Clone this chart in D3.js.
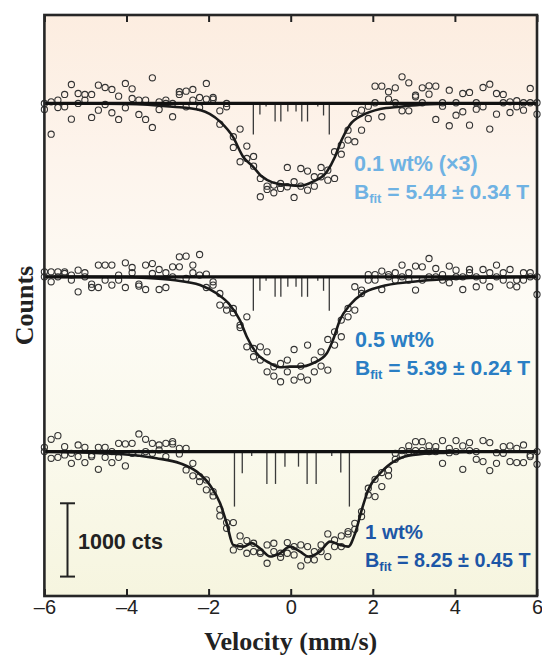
<!DOCTYPE html>
<html>
<head>
<meta charset="utf-8">
<script src="https://cdn.jsdelivr.net/npm/d3@7"></script>
<style>
body { margin: 0; background: #fff; }
text { font-family: "Liberation Sans", Arial, sans-serif; }
</style>
</head>
<body>
<script>

var width = 542,
    height = 655,
    plotLeft = 44.4, plotRight = 537, plotTop = 15, plotBottom = 596;

// channel grid of the unfolded spectrum (74 channels, -6 .. 6 mm/s)
var channels = 74;
var velocities = d3.range(channels).map(function(i) { return -6 + i * 12 / (channels - 1); });

// counts relative to the off-resonance baseline, two sweeps per sample
var wt01SweepA = [-82, 23, 45, 123, 259, 136, 123, 123, 250, 218,
    191, 100, 273, 200, 45, 45, 350, -82, 45, 0,
    160, 168, 191, 82, 273, 82, -100, -45, -454, -350,
    -582, -855, -1023, -1128, -1218, -1091, -873, -1068, -887, -923,
    -1000, -873, -910, -659, -692, -364, -136, -91, -37, 236,
    236, 160, 214, 364, 282, 113, 214, 241, 236, 10,
    181, 10, 136, 150, 10, 218, 263, 136, 123, 23,
    37, 10, 205, -146];
var wt01SweepB = [0, -419, -55, -45, -214, 0, 45, -191, -91, -14,
    -127, -218, -59, 68, -150, -218, -327, 23, 0, -181,
    123, -45, 45, -55, 59, 59, -282, 0, -600, -795,
    -750, -723, -1273, -1173, -1114, -1159, -1136, -1282, -1128, -1183,
    -1128, -1000, -1046, -1023, -569, -500, -522, -364, -205, 10,
    -181, 59, 10, -100, -100, 91, 10, 127, -218, -37,
    -304, -160, -113, -296, -78, -45, -350, -146, 10, -123,
    -45, -91, 10, 10];

var wt05SweepA = [68, -68, 68, 68, -45, 91, 55, -100, 160, 160,
    160, -45, 191, 127, -100, 160, 181, 100, 55, 136,
    273, 282, 160, 304, 37, -68, -228, -454, -491, -659,
    -546, -1091, -1136, -1023, -1355, -1432, -1296, -992, -1218, -932,
    -1296, -1218, -855, -750, -818, -546, -454, -181, 31, 31,
    78, 0, 55, 160, 55, 146, 136, 250, 113, 31,
    146, 91, 0, 100, -136, 100, 55, 160, 55, 100,
    -45, 55, 55, -241];
var wt05SweepB = [0, 68, 0, 45, 23, -205, 0, -146, -146, -45,
    -113, 23, -146, 55, -127, -173, 45, -173, -146, 0,
    136, -23, 55, 23, -146, -113, -386, -386, -432, -692,
    -955, -978, -955, -1296, -1228, -1183, -1136, -1409, -1364, -1409,
    -1136, -1023, -1273, -932, -591, -432, -136, -228, -45, -45,
    -173, 31, -45, 0, -45, -181, -45, 0, 0, -45,
    -82, 0, -173, 55, 0, -45, -136, 0, -45, -113,
    -136, -45, 0, 0];

var wt1SweepA = [59, 168, 218, 68, -160, 91, 59, -45, 59, 59,
    0, 113, 105, 113, 241, 168, 113, 91, 113, 136,
    45, 45, -160, -341, -522, -604, -787, -968, -968, -1150,
    -1214, -1250, -1364, -1523, -1250, -1387, -1241, -1409, -1273, -1296,
    -1477, -1364, -1123, -1296, -1150, -1091, -978, -818, -591, -614,
    -286, -331, -105, -45, 78, 136, 136, 78, 68, 150,
    -14, 150, 78, 123, -105, 150, 123, -160, 68, 78,
    -150, 91, -68, -173];
var wt1SweepB = [0, -91, -78, -45, -23, -68, -150, -68, -241, -78,
    -150, -78, -195, -23, -23, 0, -23, 23, -68, 105,
    -31, -250, -331, -409, -386, -546, -877, -1046, -1341, -1296,
    -1387, -1364, -1387, -1273, -1364, -1441, -1387, -1296, -1559, -1477,
    -1364, -1273, -1432, -1205, -1296, -1123, -1060, -887, -500, -378,
    -477, -250, -23, 14, 0, 14, 14, 0, 0, -160,
    45, 0, -241, 14, 0, -136, -259, -14, -23, -136,
    45, -150, -45, 0];

// fitted curves
var fit01Vel = [-6, -4, -2.87, -2.21, -1.72, -1.41, -1.16, -0.92, -0.70, -0.43, -0.07, 0.23,
    0.54, 0.88, 1.08, 1.24, 1.44, 1.76, 2.18, 2.66, 3.39, 4.2, 6];
var fit01Counts = [0, -5, -44, -89, -248, -453, -726, -862, -998, -1080, -1112, -1125,
    -1067, -930, -726, -498, -293, -157, -75, -44, -11, 0, 0];

var fit05Vel = [-6, -4, -3.5, -2.87, -2.21, -1.81, -1.48, -1.24, -1.07, -0.83, -0.50, -0.26, -0.02,
    0.23, 0.54, 0.88, 1.03, 1.20, 1.44, 1.76, 2.18, 2.98, 3.81, 4.61, 6];
var fit05Counts = [0, -5, -15, -44, -112, -225, -385, -589, -817, -1043, -1180, -1234, -1226,
    -1226, -1180, -1043, -862, -589, -385, -225, -135, -67, -30, -12, 0];

var fit1Vel = [-6, -4.08, -3.27, -2.70, -2.29, -1.97, -1.72, -1.56, -1.40, -1.15, -0.95, -0.75,
    -0.50, -0.26, -0.02, 0.23, 0.43, 0.71, 0.96, 1.20, 1.40, 1.57, 1.73, 1.89,
    2.18, 2.58, 2.98, 3.80, 4.61, 6];
var fit1Counts = [0, -35, -90, -158, -273, -454, -704, -977, -1273, -1296, -1249, -1318,
    -1432, -1386, -1296, -1364, -1432, -1364, -1228, -1273, -1296, -1113, -795, -522,
    -295, -113, -45, -14, 0, 0];

// stick spectra (line positions and depths)
var stick05Vel = [-0.91, -0.75, -0.60, -0.38, -0.24, -0.07, 0.13, 0.27, 0.41, 0.66, 0.80, 0.94];
var stick01Depth = [423, 150, 41, 246, 246, 109, 109, 246, 246, 41, 164, 423];
var stick05Depth = [464, 191, 55, 273, 273, 136, 136, 273, 273, 55, 191, 464];
var stick1Vel = [-1.37, -1.18, -0.95, -0.58, -0.37, -0.14, 0.19, 0.40, 0.62, 1.00, 1.22, 1.43];
var stick1Depth = [750, 295, 60, 441, 441, 205, 205, 441, 441, 60, 286, 750];

var sampleLabels = ["0.1 wt% (\u00d73)", "0.5 wt%", "1 wt%"];
var bfitLabels = ["5.44 \u00b1 0.34 T", "5.39 \u00b1 0.24 T", "8.25 \u00b1 0.45 T"];
var tickValues = [-6, -4, -2, 0, 2, 4, 6];

var x = d3.scaleLinear()
    .domain([-6, 6])
    .range([plotLeft, plotRight]);

var y = d3.scaleLinear()
    .domain([-6720, 1207])
    .range([plotBottom, plotTop]);

var panels = [
    { a: wt01SweepA, b: wt01SweepB, fv: fit01Vel, fc: fit01Counts, sv: stick05Vel, sd: stick01Depth,
      shift: 0, color: "#6fb2e3", lx: 354, ly: 171, fs: 21.5, fs2: 21 },
    { a: wt05SweepA, b: wt05SweepB, fv: fit05Vel, fc: fit05Counts, sv: stick05Vel, sd: stick05Depth,
      shift: -2365, color: "#2a7ec4", lx: 355, ly: 347, fs: 21.5, fs2: 21 },
    { a: wt1SweepA, b: wt1SweepB, fv: fit1Vel, fc: fit1Counts, sv: stick1Vel, sd: stick1Depth,
      shift: -4750, color: "#1d56a6", lx: 365, ly: 539, fs: 20.5, fs2: 19.8 }
];

var svg = d3.select("body").append("svg")
    .attr("width", width)
    .attr("height", height);

var grad = svg.append("defs").append("linearGradient")
    .attr("id", "bg")
    .attr("x1", 0).attr("y1", 0)
    .attr("x2", 0).attr("y2", 1);

[["0", "#fcede0"], ["0.25", "#fdf4ec"], ["0.5", "#fdfbf5"], ["0.75", "#faf9ec"], ["1", "#f6f5df"]]
    .forEach(function(s) {
        grad.append("stop").attr("offset", s[0]).attr("stop-color", s[1]);
    });

svg.append("rect")
    .attr("x", plotLeft)
    .attr("y", plotTop)
    .attr("width", plotRight - plotLeft)
    .attr("height", plotBottom - plotTop)
    .attr("fill", "url(#bg)");

var line = d3.line()
    .x(function(d) { return x(d[0]); })
    .y(function(d) { return y(d[1]); })
    .curve(d3.curveMonotoneX);

panels.forEach(function(p, k) {
    var g = svg.append("g");

    var pts = [];
    velocities.forEach(function(v, i) {
        pts.push([v, p.a[i] + p.shift]);
        pts.push([v, p.b[i] + p.shift]);
    });

    g.selectAll("circle")
        .data(pts)
        .enter().append("circle")
            .attr("cx", function(d) { return x(d[0]); })
            .attr("cy", function(d) { return y(d[1]); })
            .attr("r", 3.1)
            .attr("fill", "none")
            .attr("stroke", "#333")
            .attr("stroke-width", 1.1);

    g.append("path")
        .datum(p.fv.map(function(v, i) { return [v, p.fc[i] + p.shift]; }))
        .attr("d", line)
        .attr("fill", "none")
        .attr("stroke", "#1a1a1a")
        .attr("stroke-width", 2.6);

    g.selectAll(".stick")
        .data(p.sv)
        .enter().append("line")
            .attr("class", "stick")
            .attr("x1", function(d) { return x(d); })
            .attr("x2", function(d) { return x(d); })
            .attr("y1", y(p.shift))
            .attr("y2", function(d, i) { return y(p.shift - p.sd[i]); })
            .attr("stroke", "#3a3a3a")
            .attr("stroke-width", 1.3);

    g.append("line")
        .attr("x1", plotLeft)
        .attr("x2", plotRight)
        .attr("y1", y(p.shift))
        .attr("y2", y(p.shift))
        .attr("stroke", "#111")
        .attr("stroke-width", 3.2);

    g.append("text")
        .attr("x", p.lx)
        .attr("y", p.ly)
        .attr("fill", p.color)
        .attr("font-size", p.fs + "px")
        .attr("font-weight", "bold")
        .text(sampleLabels[k]);

    var t = g.append("text")
        .attr("x", p.lx)
        .attr("y", p.ly + 27.5)
        .attr("fill", p.color)
        .attr("font-size", p.fs2 + "px")
        .attr("font-weight", "bold");
    t.append("tspan").text("B");
    t.append("tspan").attr("font-size", "13px").attr("dy", 4).text("fit");
    t.append("tspan").attr("dy", -4).text(" = " + bfitLabels[k]);
});

// frame and axes
svg.append("g")
    .attr("transform", "translate(0," + plotBottom + ")")
    .call(d3.axisBottom(x)
        .tickValues(tickValues)
        .tickSizeInner(-7)
        .tickSizeOuter(0)
        .tickPadding(4)
        .tickFormat(function(d) { return d < 0 ? "\u2013" + (-d) : d; }))
    .call(function(a) {
        a.select(".domain").remove();
        a.selectAll("line").attr("stroke", "#222").attr("stroke-width", 2);
        a.selectAll("text")
            .attr("font-family", "Liberation Sans, Arial, sans-serif")
            .attr("font-size", "20px")
            .attr("fill", "#222");
    });

svg.append("g")
    .attr("transform", "translate(0," + plotTop + ")")
    .call(d3.axisTop(x)
        .tickValues(tickValues)
        .tickSizeInner(-7)
        .tickSizeOuter(0)
        .tickFormat(""))
    .call(function(a) {
        a.select(".domain").remove();
        a.selectAll("line").attr("stroke", "#222").attr("stroke-width", 2);
    });

svg.append("rect")
    .attr("x", plotLeft)
    .attr("y", plotTop)
    .attr("width", plotRight - plotLeft)
    .attr("height", plotBottom - plotTop)
    .attr("fill", "none")
    .attr("stroke", "#262626")
    .attr("stroke-width", 2.6);

// 1000 counts scale bar
var barTop = -5455, barLen = 1000;
var bar = svg.append("g").attr("stroke", "#222").attr("stroke-width", 2);
bar.append("line")
    .attr("x1", 67.5).attr("x2", 67.5)
    .attr("y1", y(barTop)).attr("y2", y(barTop - barLen));
bar.append("line")
    .attr("x1", 60).attr("x2", 75)
    .attr("y1", y(barTop)).attr("y2", y(barTop));
bar.append("line")
    .attr("x1", 60).attr("x2", 75)
    .attr("y1", y(barTop - barLen)).attr("y2", y(barTop - barLen));

svg.append("text")
    .attr("x", 78)
    .attr("y", 549)
    .attr("font-size", "21.5px")
    .attr("font-weight", "bold")
    .attr("fill", "#222")
    .text(barLen + " cts");

svg.append("text")
    .attr("transform", "translate(33," + ((plotTop + plotBottom) / 2) + ") rotate(-90)")
    .attr("text-anchor", "middle")
    .style("font-family", "'Liberation Serif', 'Times New Roman', serif")
    .attr("font-size", "26px")
    .attr("font-weight", "bold")
    .attr("fill", "#222")
    .text("Counts");

svg.append("text")
    .attr("x", x(0))
    .attr("y", 650)
    .attr("text-anchor", "middle")
    .style("font-family", "'Liberation Serif', 'Times New Roman', serif")
    .attr("font-size", "26px")
    .attr("font-weight", "bold")
    .attr("fill", "#222")
    .text("Velocity (mm/s)");

</script>
</body>
</html>
